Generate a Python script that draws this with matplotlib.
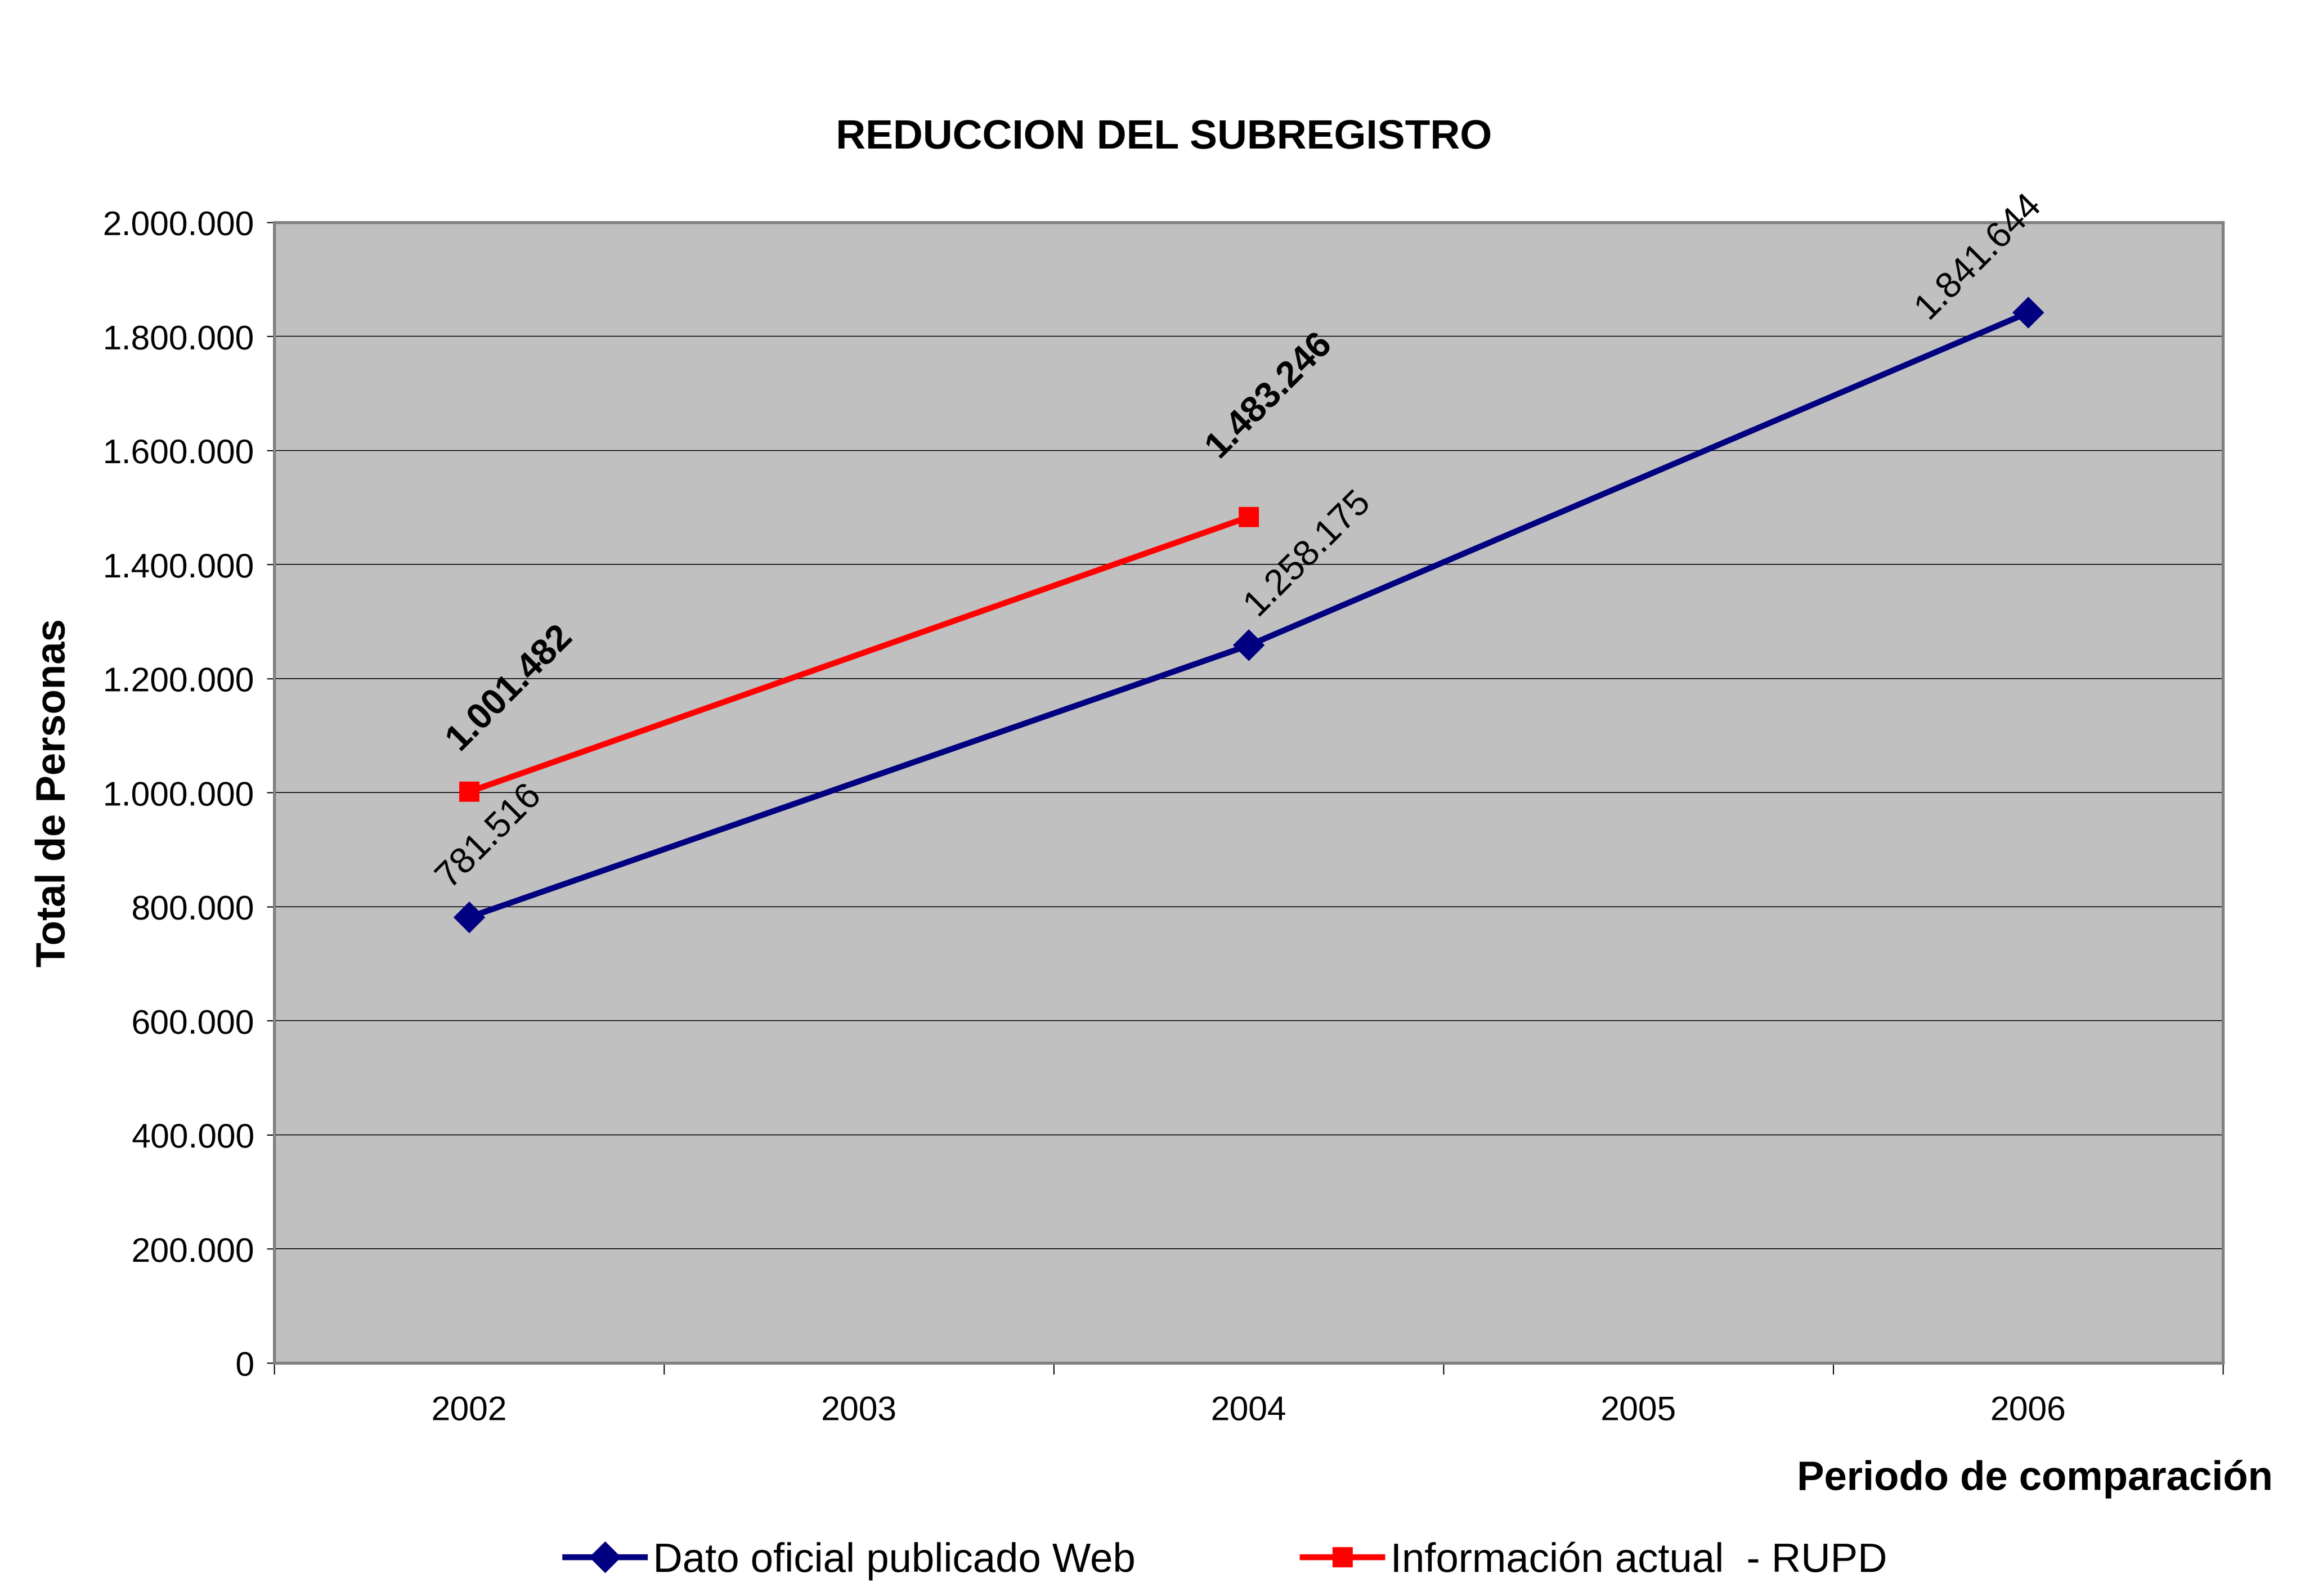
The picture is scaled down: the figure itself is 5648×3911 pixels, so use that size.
import matplotlib
matplotlib.use('Agg')
from matplotlib import pyplot as plt
from matplotlib.ticker import FuncFormatter, FixedLocator

plt.rcParams['font.family'] = ['Liberation Sans', 'DejaVu Sans']

years = ['2002', '2003', '2004', '2005', '2006']
web_years = ['2002', '2004', '2006']
web_values = [781516, 1258175, 1841644]
rupd_years = ['2002', '2004']
rupd_values = [1001482, 1483246]

web_label = 'Dato oficial publicado Web'
rupd_label = 'Información actual  - RUPD'

# label offsets (points) from each point
web_offsets = [(9, 36), (26, 41), (-22, 25)]
rupd_offsets = [(18, 46), (9, 54)]


def fmt(v):
    return '{:,}'.format(int(v)).replace(',', '.')


fig = plt.figure(figsize=(14.12, 9.78), dpi=400)
ax = fig.add_axes([0.119, 0.146, 0.8455, 0.7145])
ax.set_facecolor('#C0C0C0')

wx = [years.index(y) for y in web_years]
rx = [years.index(y) for y in rupd_years]

ax.plot(wx, web_values, color='#000080', lw=2.6, marker='D', ms=9,
        label=web_label, zorder=3)
ax.plot(rx, rupd_values, color='#FF0000', lw=2.6, marker='s', ms=8,
        label=rupd_label, zorder=3)

for x, v, off in zip(wx, web_values, web_offsets):
    ax.annotate(fmt(v), (x, v), xytext=off, textcoords='offset points',
                ha='center', va='center', rotation=45, fontsize=16,
                annotation_clip=False, zorder=4)
for x, v, off in zip(rx, rupd_values, rupd_offsets):
    ax.annotate(fmt(v), (x, v), xytext=off, textcoords='offset points',
                ha='center', va='center', rotation=45, fontsize=16,
                fontweight='bold', annotation_clip=False, zorder=4)

ax.set_xlim(-0.5, len(years) - 0.5)
ax.set_ylim(0, 2000000)
ax.set_yticks(range(0, 2000001, 200000))
ax.yaxis.set_major_formatter(FuncFormatter(lambda v, p: fmt(v)))
ax.grid(axis='y', color='black', lw=0.4)
ax.set_axisbelow(True)

# category boundaries get the tick marks, labels sit in the middle
ax.xaxis.set_major_locator(FixedLocator([i - 0.5 for i in range(len(years) + 1)]))
ax.xaxis.set_major_formatter(FuncFormatter(lambda v, p: ''))
ax.xaxis.set_minor_locator(FixedLocator(range(len(years))))
ax.set_xticklabels(years, minor=True)
ax.tick_params(axis='x', which='major', length=5, width=0.5, direction='out')
ax.tick_params(axis='x', which='minor', length=0, labelsize=15, pad=14)
ax.tick_params(axis='y', length=3.3, width=0.5, labelsize=15, pad=5.5)

for s in ax.spines.values():
    s.set_color('#808080')
    s.set_linewidth(1.3)
ax.axhline(0, color='black', lw=0.6, zorder=2, clip_on=False)
ax.axvline(-0.5, color='black', lw=0.6, zorder=2, clip_on=False)

ax.set_ylabel('Total de Personas', fontsize=18, fontweight='bold')
ax.yaxis.set_label_coords(-0.103, 0.5)

fig.text(0.505, 0.9135, 'REDUCCION DEL SUBREGISTRO', ha='center', va='center',
         fontsize=18.2, fontweight='bold')
fig.text(0.986, 0.0735, 'Periodo de comparación', ha='right', va='center',
         fontsize=18, fontweight='bold')

fig.legend(loc='center', bbox_to_anchor=(0.532, 0.022), ncol=2, frameon=False,
           fontsize=18, handlelength=1.95, handletextpad=0.2, columnspacing=4.1)

plt.savefig('out.png', dpi=400)
